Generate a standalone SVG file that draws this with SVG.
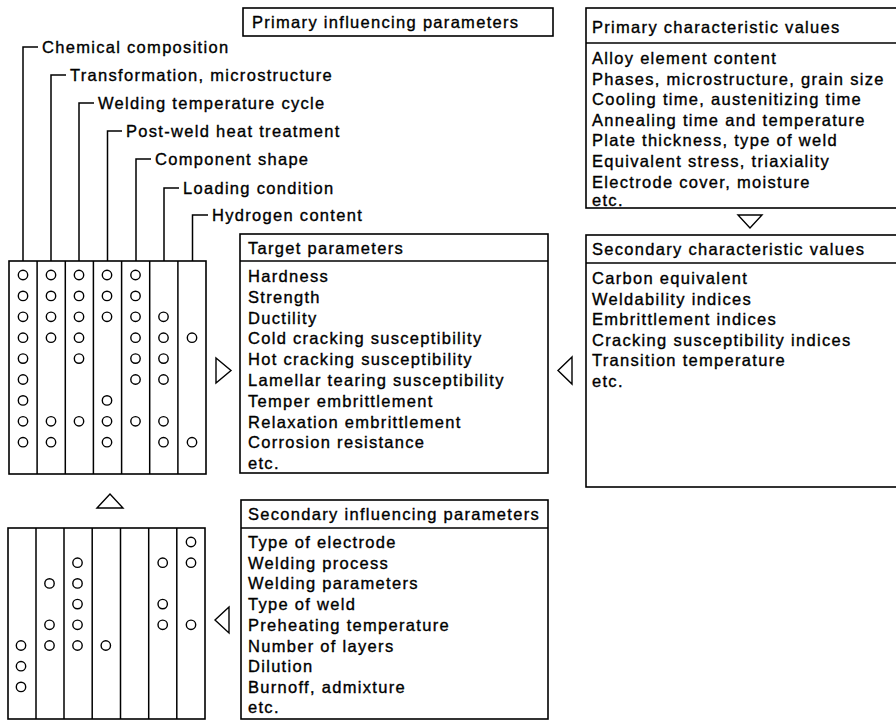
<svg xmlns="http://www.w3.org/2000/svg" width="896" height="720" viewBox="0 0 896 720">
<style>
text{font-family:"Liberation Sans",Arial,Helvetica,sans-serif;font-size:16.5px;letter-spacing:1.3px;fill:#000;stroke:#000;stroke-width:0.35px}
.box{fill:#fff;stroke:#000;stroke-width:1.6}
.ln{fill:none;stroke:#000;stroke-width:1.5}
.c{fill:none;stroke:#000;stroke-width:1.4}
.tri{fill:#fff;stroke:#000;stroke-width:1.4;stroke-linejoin:miter}
</style>
<defs>
<circle id="o" r="4.7" class="c"/>
</defs>
<rect width="896" height="720" fill="#fff"/>

<g id="primary-influencing">
<rect class="box" x="243" y="8" width="310" height="28"/>
<text x="252" y="28">Primary influencing parameters</text>
</g>

<g id="influence-labels">
<text x="42" y="53">Chemical composition</text>
<text x="70" y="81">Transformation, microstructure</text>
<text x="98" y="109">Welding temperature cycle</text>
<text x="126" y="137">Post-weld heat treatment</text>
<text x="155" y="165">Component shape</text>
<text x="183" y="194">Loading condition</text>
<text x="212" y="221">Hydrogen content</text>
</g>

<g id="matrix-top">
<rect class="box" x="9" y="261" width="197" height="213"/>
<path class="ln" d="M37.1 261V474M65.3 261V474M93.4 261V474M121.6 261V474M149.7 261V474M177.9 261V474"/>
<g>
<use href="#o" x="23" y="275"/><use href="#o" x="23" y="295.9"/><use href="#o" x="23" y="316.8"/><use href="#o" x="23" y="337.7"/><use href="#o" x="23" y="358.6"/><use href="#o" x="23" y="379.5"/><use href="#o" x="23" y="400.4"/><use href="#o" x="23" y="421.3"/><use href="#o" x="23" y="442.2"/>
<use href="#o" x="51" y="275"/><use href="#o" x="51" y="295.9"/><use href="#o" x="51" y="316.8"/><use href="#o" x="51" y="337.7"/><use href="#o" x="51" y="421.3"/><use href="#o" x="51" y="442.2"/>
<use href="#o" x="79" y="275"/><use href="#o" x="79" y="295.9"/><use href="#o" x="79" y="316.8"/><use href="#o" x="79" y="337.7"/><use href="#o" x="79" y="358.6"/><use href="#o" x="79" y="421.3"/>
<use href="#o" x="107" y="275"/><use href="#o" x="107" y="295.9"/><use href="#o" x="107" y="316.8"/><use href="#o" x="107" y="400.4"/><use href="#o" x="107" y="421.3"/><use href="#o" x="107" y="442.2"/>
<use href="#o" x="135.5" y="275"/><use href="#o" x="135.5" y="295.9"/><use href="#o" x="135.5" y="316.8"/><use href="#o" x="135.5" y="337.7"/><use href="#o" x="135.5" y="358.6"/><use href="#o" x="135.5" y="379.5"/><use href="#o" x="135.5" y="421.3"/>
<use href="#o" x="163.5" y="316.8"/><use href="#o" x="163.5" y="337.7"/><use href="#o" x="163.5" y="358.6"/><use href="#o" x="163.5" y="379.5"/><use href="#o" x="163.5" y="421.3"/><use href="#o" x="163.5" y="442.2"/>
<use href="#o" x="192" y="337.7"/><use href="#o" x="192" y="442.2"/>
</g>
</g>

<g id="matrix-bottom">
<rect class="box" x="8" y="528" width="197" height="191"/>
<path class="ln" d="M36 528V719M64 528V719M92.2 528V719M120.5 528V719M148.7 528V719M176.8 528V719"/>
<g>
<use href="#o" x="21" y="645.5"/><use href="#o" x="21" y="666.2"/><use href="#o" x="21" y="686.9"/>
<use href="#o" x="49.5" y="583.4"/><use href="#o" x="49.5" y="624.8"/><use href="#o" x="49.5" y="645.5"/>
<use href="#o" x="77.5" y="562.7"/><use href="#o" x="77.5" y="583.4"/><use href="#o" x="77.5" y="604.1"/><use href="#o" x="77.5" y="624.8"/><use href="#o" x="77.5" y="645.5"/>
<use href="#o" x="105.8" y="645.5"/>
<use href="#o" x="162.7" y="562.7"/><use href="#o" x="162.7" y="604.1"/><use href="#o" x="162.7" y="624.8"/>
<use href="#o" x="191" y="542"/><use href="#o" x="191" y="562.7"/><use href="#o" x="191" y="624.8"/>
</g>
</g>

<g id="target-parameters">
<rect class="box" x="240" y="234" width="308" height="239"/>
<path class="ln" d="M240 261H548"/>
<text x="248" y="254">Target parameters</text>
<text x="248" y="282">Hardness</text>
<text x="248" y="302.8">Strength</text>
<text x="248" y="323.6">Ductility</text>
<text x="248" y="344.4">Cold cracking susceptibility</text>
<text x="248" y="365.2">Hot cracking susceptibility</text>
<text x="248" y="386">Lamellar tearing susceptibility</text>
<text x="248" y="406.8">Temper embrittlement</text>
<text x="248" y="427.6">Relaxation embrittlement</text>
<text x="248" y="448.4">Corrosion resistance</text>
<text x="248" y="469">etc.</text>
</g>

<g id="secondary-influencing">
<rect class="box" x="241" y="500" width="307" height="219"/>
<path class="ln" d="M241 528H548"/>
<text x="248" y="520">Secondary influencing parameters</text>
<text x="248" y="548">Type of electrode</text>
<text x="248" y="568.7">Welding process</text>
<text x="248" y="589.4">Welding parameters</text>
<text x="248" y="610.1">Type of weld</text>
<text x="248" y="630.8">Preheating temperature</text>
<text x="248" y="651.5">Number of layers</text>
<text x="248" y="672.2">Dilution</text>
<text x="248" y="692.9">Burnoff, admixture</text>
<text x="248" y="713.4">etc.</text>
</g>

<g id="primary-characteristic">
<rect class="box" x="586" y="8" width="320" height="200"/>
<path class="ln" d="M586 43H900"/>
<text x="592" y="33">Primary characteristic values</text>
<text x="592" y="64">Alloy element content</text>
<text x="592" y="84.6">Phases, microstructure, grain size</text>
<text x="592" y="105.2">Cooling time, austenitizing time</text>
<text x="592" y="125.8">Annealing time and temperature</text>
<text x="592" y="146.4">Plate thickness, type of weld</text>
<text x="592" y="167">Equivalent stress, triaxiality</text>
<text x="592" y="187.6">Electrode cover, moisture</text>
<text x="592" y="206">etc.</text>
</g>

<g id="secondary-characteristic">
<rect class="box" x="586" y="235" width="320" height="252"/>
<path class="ln" d="M586 263H900"/>
<text x="592" y="255">Secondary characteristic values</text>
<text x="592" y="284">Carbon equivalent</text>
<text x="592" y="304.6">Weldability indices</text>
<text x="592" y="325.2">Embrittlement indices</text>
<text x="592" y="345.8">Cracking susceptibility indices</text>
<text x="592" y="366.4">Transition temperature</text>
<text x="592" y="387">etc.</text>
</g>

<g id="connectors">
<path class="ln" d="M23 261V47H38M51 261V75H66M79 261V103H94M107.5 261V131H122M136 261V159H151M164 261V188H179M192.5 261V215H208"/>
<polygon class="tri" points="216,358 231,370.5 216,383"/>
<polygon class="tri" points="572,357 558,370.5 572,384"/>
<polygon class="tri" points="738,215 762,215 750,228"/>
<polygon class="tri" points="97,508 110,494 123,508"/>
<polygon class="tri" points="229,607 215,620 229,633"/>
</g>
</svg>
